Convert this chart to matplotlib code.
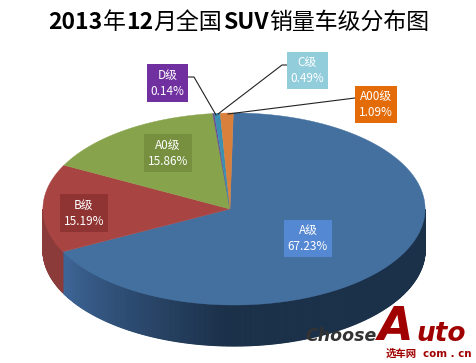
import numpy as np
import matplotlib
matplotlib.use('Agg')
import matplotlib.pyplot as plt
from matplotlib.colors import to_rgb
from matplotlib.patches import Rectangle

plt.rcParams['font.family'] = ['Noto Sans CJK SC', 'DejaVu Sans']

# values go clockwise, starting at the top of the pie
categories = ['A级', 'B级', 'A0级', 'D级', 'C级', 'A00级']
shares = [67.23, 15.19, 15.86, 0.14, 0.49, 1.09]
top_colors = ['#44709f', '#a84542', '#87a44c', '#6a4a92', '#3b8fb0', '#d9803c']
side_colors = ['#2f5079', '#8b3b39', '#6c843c', '#503670', '#2c6c85', '#a8602c']
box_colors = ['#5588d2', '#8f3432', '#76903f', '#7030a0', '#92cddc', '#e36c09']
# title pieces: text, bold or not
title_parts = [('2013', 'bold'), ('年', 'normal'), ('12', 'bold'), ('月全国', 'normal'),
               ('SUV', 'bold'), ('销量车级分布图', 'normal')]

# pixel position of each label box: left, top, right, bottom
label_boxes = [(284, 220, 332, 257), (60, 194, 108, 232), (144, 134, 192, 172),
               (147, 64, 188, 102), (287, 52, 328, 89), (355, 86, 397, 123)]

start_angle = 89
apex = (230, 209)
depth = 41


def project(deg):
    # circle seen at a slant: the near side gets stretched a little
    t = np.radians(deg)
    w = 1 - 0.021 * np.cos(t)
    return apex[0] + 191 * np.cos(t) / w, apex[1] - 96 * np.sin(t) / w


fig = plt.figure(figsize=(4.77, 3.63), dpi=100)
ax = fig.add_axes([0, 0, 1, 1])
ax.set_xlim(0, 477)
ax.set_ylim(363, 0)
ax.axis('off')

edges = start_angle - np.cumsum([0] + shares) * 3.6

# side wall, only the front half of the rim shows
for i in range(len(shares)):
    a0, a1 = edges[i], edges[i + 1]
    steps = np.linspace(a0, a1, max(2, int(abs(a0 - a1) / 0.5)))
    for s0, s1 in zip(steps[:-1], steps[1:]):
        if np.sin(np.radians((s0 + s1) / 2)) > 0:
            continue
        x0, y0 = project(s0)
        x1, y1 = project(s1)
        col = side_colors[i]
        if i == 0:
            # darker towards the right
            f = np.clip((s0 + 151) / 60, 0, 1)
            col = np.array(to_rgb('#3d6596')) * (1 - f) + np.array(to_rgb('#1b3049')) * f
        ax.fill([x0, x1, x1, x0], [y0, y1, y1 + depth, y0 + depth], color=col, lw=0.8, zorder=2)

# top face
for i in range(len(shares)):
    th = np.linspace(edges[i], edges[i + 1], 200)
    xs, ys = project(th)
    ax.fill(np.r_[apex[0], xs], np.r_[apex[1], ys], color=top_colors[i], lw=0.3, zorder=3)

# leader lines for the three thin slices
leaders = {3: [(188, 77), (194, 77), (216, 115)], 4: [(287, 65), (282, 65), (218, 114)],
           5: [(355, 98), (228, 114)]}
for i, pts in leaders.items():
    ax.plot(*zip(*pts), color='#222222', lw=0.8, zorder=4)

for name, share, box, col in zip(categories, shares, label_boxes, box_colors):
    l, t, r, b = box
    ax.add_patch(Rectangle((l, t), r - l, b - t, color=col, lw=0, zorder=5))
    cx = (l + r) / 2
    ax.text(cx, t + (b - t) * 0.29, name, color='white', fontsize=8.5, ha='center', va='center', zorder=6)
    ax.text(cx, t + (b - t) * 0.72, f'{share:.2f}%', color='white', fontsize=8.5, ha='center', va='center', zorder=6)

# title is laid out piece by piece since the digits are heavier than the hanzi
renderer = fig.canvas.get_renderer()
x_pos = 48
for part, weight in title_parts:
    txt = ax.text(x_pos, 20, part, fontsize=16.5, fontweight=weight, color='black', ha='left', va='center_baseline')
    bb = txt.get_window_extent(renderer)
    x_pos += bb.width + 0.5

# site logo
ax.text(305, 336, 'Choose', color='#333333', fontsize=12.5, fontweight='bold', style='italic', family='DejaVu Sans',
        ha='left', va='center', zorder=7)
ax.text(378, 328, 'A', color='#a00000', fontsize=33, fontweight='bold', style='italic', family='DejaVu Sans',
        ha='left', va='center', zorder=7)
ax.text(416, 334, 'uto', color='#a00000', fontsize=19, fontweight='bold', style='italic', family='DejaVu Sans',
        ha='left', va='center', zorder=7)
ax.text(386, 354, '选车网', color='#a00000', fontsize=7.5, fontweight='bold', ha='left', va='center', zorder=8)
ax.text(423, 354, 'com . cn', color='#a00000', fontsize=7.4, fontweight='bold', family='DejaVu Sans',
        ha='left', va='center', zorder=8)

fig.savefig('out.png', dpi=100)
